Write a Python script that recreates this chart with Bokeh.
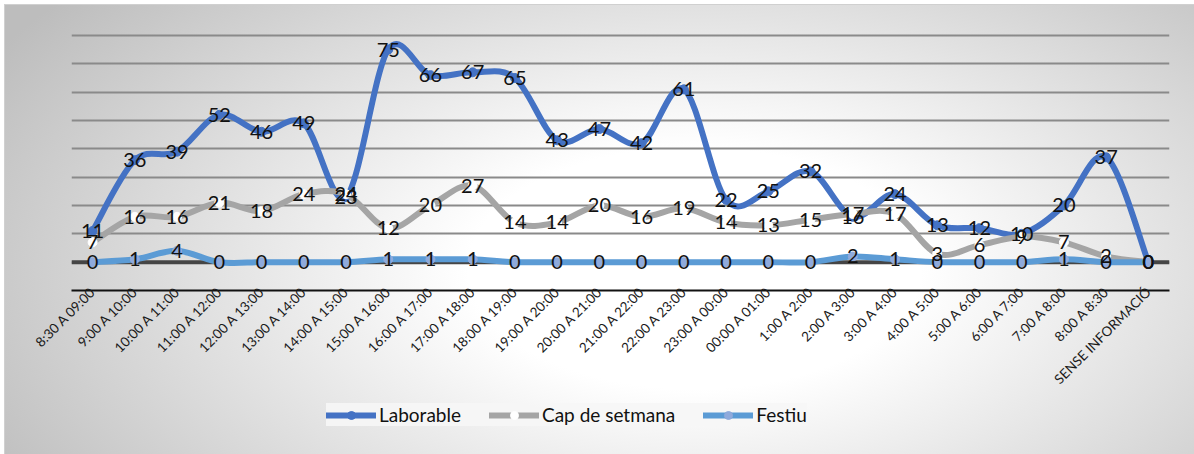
import math
from bokeh.plotting import figure
from bokeh.layouts import column
from bokeh.models import Range1d, FixedTicker, Legend, LegendItem, Span, ColumnDataSource
from bokeh.core.properties import value
from bokeh.embed import file_html
from bokeh.resources import INLINE

categories = ["8:30 A 09:00", "9:00 A 10:00", "10:00 A 11:00", "11:00 A 12:00",
              "12:00 A 13:00", "13:00 A 14:00", "14:00 A 15:00", "15:00 A 16:00",
              "16:00 A 17:00", "17:00 A 18:00", "18:00 A 19:00", "19:00 A 20:00",
              "20:00 A 21:00", "21:00 A 22:00", "22:00 A 23:00", "23:00 A 00:00",
              "00:00 A 01:00", "1:00 A 2:00", "2:00 A 3:00", "3:00 A 4:00",
              "4:00 A 5:00", "5:00 A 6:00", "6:00 A 7:00", "7:00 A 8:00",
              "8:00 A 8:30", "SENSE INFORMACIÓ"]
laborable = [11, 36, 39, 52, 46, 49, 23, 75, 66, 67, 65, 43, 47, 42, 61, 22, 25, 32,
             16, 24, 13, 12, 10, 20, 37, 0]
cap_setmana = [7, 16, 16, 21, 18, 24, 24, 12, 20, 27, 14, 14, 20, 16, 19, 14, 13, 15,
               17, 17, 3, 6, 9, 7, 2, 0]
festiu = [0, 1, 4, 0, 0, 0, 0, 1, 1, 1, 0, 0, 0, 0, 0, 0, 0, 0, 2, 1, 0, 0, 0, 1, 0, 0]
series_names = ["Laborable", "Cap de setmana", "Festiu"]
y_ticks = [-10, 0, 10, 20, 30, 40, 50, 60, 70, 80]

xs = list(range(len(categories)))
FONT = "Lato"


def bezier_source(xv, yv, t=1.0 / 6.0):
    n = len(xv)
    d = {k: [] for k in ("x0", "y0", "x1", "y1", "cx0", "cy0", "cx1", "cy1")}
    for i in range(n - 1):
        i0 = max(i - 1, 0)
        i3 = min(i + 2, n - 1)
        d["x0"].append(xv[i]); d["y0"].append(yv[i])
        d["x1"].append(xv[i + 1]); d["y1"].append(yv[i + 1])
        d["cx0"].append(xv[i] + (xv[i + 1] - xv[i0]) * t)
        d["cy0"].append(yv[i] + (yv[i + 1] - yv[i0]) * t)
        d["cx1"].append(xv[i + 1] - (xv[i3] - xv[i]) * t)
        d["cy1"].append(yv[i + 1] - (yv[i3] - yv[i]) * t)
    return ColumnDataSource(d)


p = figure(frame_width=1098, frame_height=257, output_backend="svg", toolbar_location=None,
           x_range=Range1d(-0.5, len(categories) - 0.5), y_range=Range1d(-10, 80.7),
           min_border_left=66, min_border_right=25, min_border_top=28,
           min_border_bottom=100)
p.border_fill_color = None
p.background_fill_color = None
p.outline_line_color = None

p.yaxis.visible = False
p.ygrid.ticker = FixedTicker(ticks=y_ticks)
p.ygrid.grid_line_color = "#8a8a8a"
p.ygrid.grid_line_width = 2
p.xgrid.visible = False

p.xaxis.ticker = FixedTicker(ticks=xs)
p.xaxis.major_label_overrides = {i: c for i, c in enumerate(categories)}
p.xaxis.major_label_orientation = math.pi / 4
p.xaxis.major_label_text_font = FONT
p.xaxis.major_label_text_font_size = "13.5px"
p.xaxis.major_label_text_color = "#1a1a1a"
p.xaxis.major_label_standoff = -7
p.xaxis.major_tick_line_color = None
p.xaxis.minor_tick_line_color = None
p.xaxis.axis_line_color = "#111111"
p.xaxis.axis_line_width = 2

p.add_layout(Span(location=0, dimension="width", line_color="#454545", line_width=4,
                  level="underlay"))

colors = ["#4472C4", "#A5A5A5", "#5B9BD5"]
marker_fill = ["#4472C4", "#FFFFFF", "#8FAADC"]
data = [laborable, cap_setmana, festiu]

for name, vals, col, mf in zip(series_names, data, colors, marker_fill):
    src = bezier_source(xs, vals)
    p.bezier(x0="x0", y0="y0", x1="x1", y1="y1", cx0="cx0", cy0="cy0",
             cx1="cx1", cy1="cy1", source=src, line_color=col, line_width=6,
             line_cap="round")
    p.scatter(xs, vals, size=9, fill_color=mf, line_color=mf)

for vals in data:
    p.text(xs, vals, text=[str(v) for v in vals], text_align="center",
           text_baseline="middle", text_font=value(FONT), text_font_size="20px",
           text_color="#111111")

# legend strip (legend-only renderers kept outside the visible range)
pl = figure(width=1189, height=64, output_backend="svg", toolbar_location=None,
            x_range=Range1d(0, 1), y_range=Range1d(0, 1), min_border=0)
pl.border_fill_color = None
pl.background_fill_color = None
pl.outline_line_color = None
pl.axis.visible = False
pl.grid.visible = False
items = []
for name, col, mf in zip(series_names, colors, marker_fill):
    lr = pl.line([-5, -4], [-5, -4], line_color=col, line_width=6, line_cap="round")
    sr = pl.scatter([-5], [-5], size=9, fill_color=mf, line_color=mf)
    items.append(LegendItem(label=name, renderers=[lr, sr]))

legend = Legend(items=items, orientation="horizontal", location=(255, 33))
legend.label_text_font = FONT
legend.label_text_font_size = "19px"
legend.label_text_color = "#111111"
legend.glyph_width = 50
legend.glyph_height = 20
legend.spacing = 28
legend.label_standoff = 3
legend.background_fill_color = "#f6f6f6"
legend.background_fill_alpha = 0.9
legend.border_line_color = None
legend.padding = 12
legend.margin = 0
pl.add_layout(legend, "center")

layout = column(p, pl, spacing=0)
layout.styles = {"background": "radial-gradient(ellipse 68% 95% at 58% 58%, #ffffff 28%, #bdbdbd 100%)",
                 "border": "1px solid #d0d0d0", "margin-left": "4px", "margin-top": "4px"}

open("out.html", "w").write(file_html(layout, INLINE))
